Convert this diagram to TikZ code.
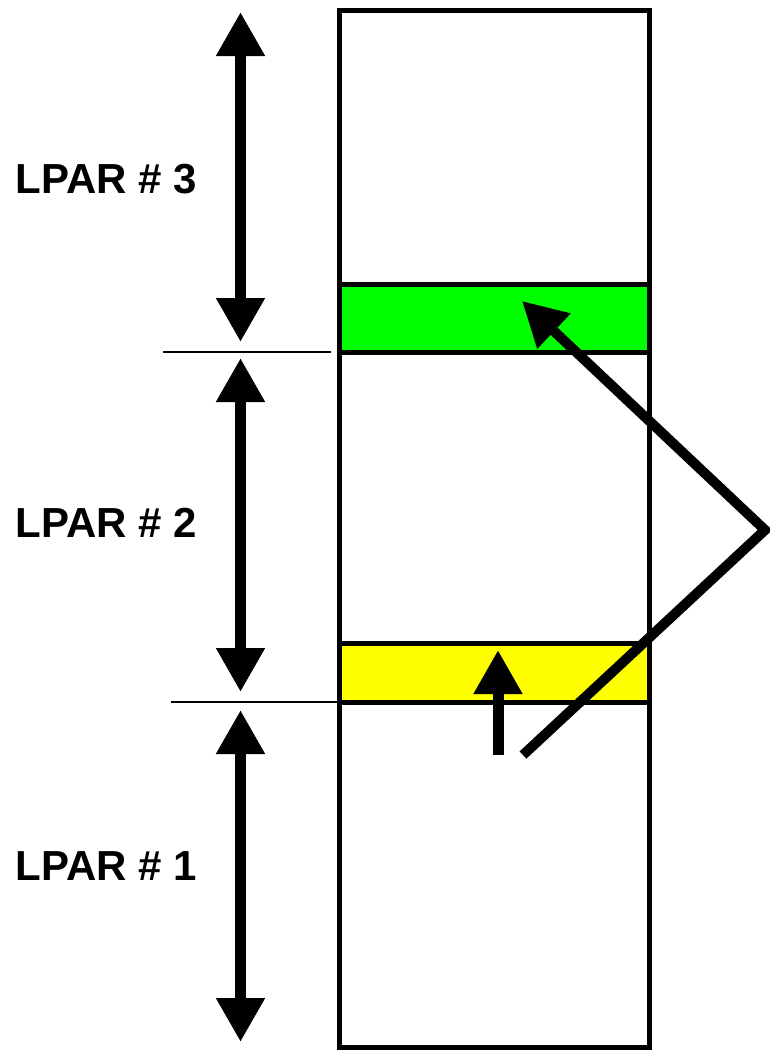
\documentclass[tikz,border=0pt]{standalone}
\usepackage{fontspec}
\setmainfont{Liberation Sans}
\usetikzlibrary{arrows.meta}
\begin{document}
\begin{tikzpicture}[x=1pt,y=-1pt,
  frame/.style={draw=black,line width=5pt},
  bigarrow/.style={line width=11pt,{Triangle[width=46pt,length=44pt]}-{Triangle[width=46pt,length=44pt]}},
  onearrow/.style={line width=11pt,-{Triangle[width=46pt,length=44pt]}},
  diag/.style={line width=10pt,line join=miter,-{Triangle[width=46pt,length=44pt]}},
  thin/.style={line width=1.6pt},
  lbl/.style={font=\bfseries\fontsize{42}{42}\selectfont,anchor=west,inner sep=0pt}]
\useasboundingbox (0,0) rectangle (769,1050);
% column
\draw[frame] (339.5,10.5) rectangle (649.5,1047);
\draw[frame,fill={rgb,255:red,0;green,255;blue,0}] (339.5,284) rectangle (649.5,352);
\draw[frame,fill={rgb,255:red,255;green,255;blue,0}] (339.5,643) rectangle (649.5,702);
% separators
\draw[thin] (163,352) -- (331,352);
\draw[thin] (171,702) -- (337,702);
% range arrows
\coordinate (a3t) at (240.5,12);
\coordinate (a3b) at (240.5,342);
\coordinate (a2t) at (240.5,358);
\coordinate (a2b) at (240.5,692);
\coordinate (a1t) at (240.5,710);
\coordinate (a1b) at (240.5,1042);
\draw[bigarrow] (a3b) -- (a3t);
\draw[bigarrow] (a2b) -- (a2t);
\draw[bigarrow] (a1b) -- (a1t);
% labels
\node[lbl] (l3) at (15.5,179) {LPAR \# 3};
\node[lbl] (l2) at (15.5,523) {LPAR \# 2};
\node[lbl] (l1) at (15.5,866) {LPAR \# 1};
% pointer arrows
\coordinate (s) at (498,755);
\coordinate (t) at (498,650);
\draw[onearrow] (s) -- (t);
\coordinate (d0) at (523,755);
\coordinate (d1) at (765,530);
\coordinate (d2) at (522,301);
\draw[diag] (d0) -- (d1) -- (d2);
\end{tikzpicture}
\end{document}
